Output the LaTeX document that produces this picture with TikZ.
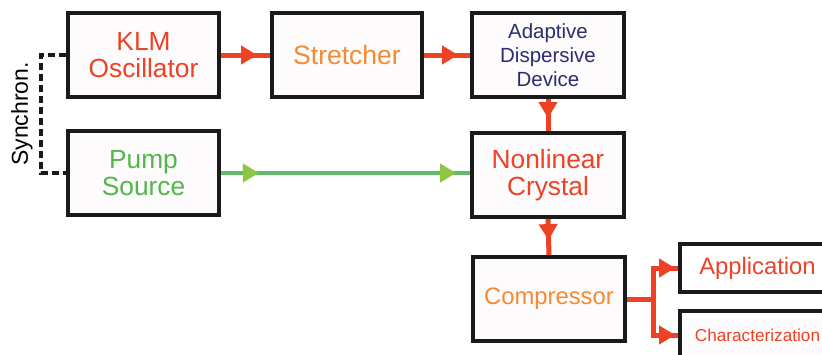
\documentclass[tikz,border=0pt]{standalone}
\usepackage{fontspec}
\setmainfont{Liberation Sans}
\usetikzlibrary{arrows.meta,decorations.markings}
\definecolor{cred}{RGB}{237,66,36}
\definecolor{corange}{RGB}{245,138,50}
\definecolor{cnavy}{RGB}{43,45,110}
\definecolor{cgreentext}{RGB}{80,184,72}
\definecolor{cgreenline}{RGB}{100,185,106}
\definecolor{cgreentip}{RGB}{141,198,63}
\definecolor{boxfill}{RGB}{253,251,252}
\definecolor{boxdraw}{RGB}{26,26,26}
\begin{document}
\begin{tikzpicture}[x=1pt,y=-1pt,
  box/.style={draw=boxdraw, line width=3.8pt, fill=boxfill, inner sep=0pt, align=center,
    minimum width=151pt, minimum height=84pt},
  bigtext/.style={font=\fontsize{26.3}{27.5}\selectfont},
  midtext/.style={font=\fontsize{23.8}{27}\selectfont},
  smalltext/.style={font=\fontsize{20.5}{24}\selectfont},
  redline/.style={draw=cred, line width=5pt, postaction={decorate},
    decoration={markings, mark=at position #1 with {\arrow[cred]{Triangle[length=16pt,width=18pt]}}}},
  greenline/.style={draw=cgreenline, line width=4.5pt, postaction={decorate},
    decoration={markings,
      mark=at position 38pt with {\arrow[cgreentip]{Triangle[length=16pt,width=18pt]}},
      mark=at position -14pt with {\arrow[cgreentip]{Triangle[length=16pt,width=18pt]}}}},
  syncline/.style={draw=boxdraw, line width=3.5pt, dash pattern=on 7pt off 4pt}
]
\clip (0,0) rectangle (822,354);
\fill[white] (0,0) rectangle (822,354);

\node[box, bigtext, text=cred] (klm) at (143.5,55) {KLM\\Oscillator};
\node[box, font=\fontsize{26.5}{30}\selectfont, text=corange, minimum width=150pt] (str) at (347,55) {Stretcher};
\node[box, smalltext, text=cnavy, minimum width=152pt] (add) at (548,55) {Adaptive\\Dispersive\\Device};
\node[box, bigtext, text=cgreentext] (pump) at (143.5,173) {Pump\\Source};
\node[box, bigtext, text=cred, minimum width=152pt] (nlc) at (548,175) {Nonlinear\\Crystal};
\node[box, midtext, text=corange, minimum width=152pt] (comp) at (549,299) {Compressor};
\node[box, midtext, text=cred, minimum width=155pt, minimum height=48pt, fill=white] (app) at (757.5,268) {Application};
\node[box, font=\fontsize{17.2}{20}\selectfont, text=cred, minimum width=155pt, minimum height=48pt] (char) at (757.5,335) {Characterization};

\node[rotate=90, font=\fontsize{23}{26}\selectfont] (sync) at (22,114) {Synchron.};

\draw[redline=-13pt] (klm.east) -- (str.west);
\draw[redline=-12pt] (str.east) -- (add.west);
\draw[redline=-13pt] (add.south) -- (nlc.north);
\draw[redline=-15pt] (nlc.south) -- (comp.south |- comp.north);
\draw[greenline] (pump.east) -- (nlc.west |- pump.east);

\draw[syncline] (klm.west) -- ++(-25,0) |- (pump.west);

\draw[draw=cred, line width=5pt] (comp.east) -- ++(27,0) coordinate (br);
\draw[redline=-3pt] (br) |- (app.west);
\draw[redline=-3pt] (br) |- (char.west);
\end{tikzpicture}
\end{document}
